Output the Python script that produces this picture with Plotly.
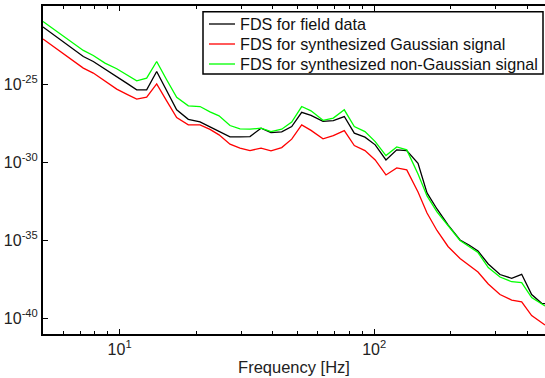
import plotly.graph_objects as go
import math

freq = [5.0, 5.47, 5.99, 6.56, 7.20, 7.88, 8.76, 9.74, 10.69, 11.67,
        12.77, 13.98, 15.30, 16.75, 18.61, 20.69, 22.64, 24.57, 27.13, 29.70,
        32.51, 35.93, 39.31, 43.31, 47.41, 51.89, 56.46, 62.92, 69.07, 76.29,
        83.51, 91.97, 100.9, 111.2, 122.6, 134.2, 148.6, 161.2, 176.4, 194.9,
        217.3, 235.6, 255.6, 280.5, 311.9, 346.7, 379.5, 415.3, 454.7, 468.6]

fds_field = [4.51e-22, 1.58e-22, 5.38e-23, 1.83e-23, 5.87e-24, 2.81e-24, 9.57e-25, 3.07e-25, 1.12e-25, 4.31e-26,
             4.31e-26, 6.43e-25, 3.72e-26, 2.25e-27, 5.55e-28, 3.83e-28, 1.83e-28, 9.70e-29, 4.19e-29, 4.19e-29,
             4.38e-29, 1.51e-28, 7.89e-29, 8.75e-29, 1.91e-28, 1.56e-27, 1.0e-27, 4.12e-28, 4.64e-28, 8.38e-28,
             7.23e-29, 4.01e-29, 1.29e-29, 1.40e-30, 6.14e-30, 5.55e-30, 8.38e-31, 1.08e-32, 1.01e-33, 9.57e-35,
             1.04e-35, 5.00e-36, 2.06e-36, 3.03e-37, 6.43e-38, 3.66e-38, 6.62e-38, 3.36e-39, 9.16e-40, 8.89e-40]

fds_gauss = [7.67e-23, 2.69e-23, 9.29e-24, 3.21e-24, 1.06e-24, 5.07e-25, 1.63e-25, 4.78e-26, 2.22e-26, 1.09e-26,
             1.47e-26, 1.04e-25, 8.49e-27, 7.23e-28, 2.46e-28, 2.46e-28, 1.27e-28, 5.62e-29, 1.43e-29, 7.89e-30,
             5.55e-30, 7.89e-30, 5.30e-30, 8.63e-30, 2.98e-29, 2.46e-28, 1.09e-28, 3.12e-29, 5.07e-29, 1.06e-28,
             1.16e-29, 5.55e-30, 1.40e-30, 1.53e-31, 4.31e-31, 3.21e-31, 1.25e-32, 5.62e-34, 4.25e-35, 4.01e-36,
             6.81e-37, 2.61e-37, 9.29e-38, 1.58e-38, 3.36e-39, 1.49e-39, 1.16e-39, 1.51e-40, 4.78e-41, 3.72e-41]

fds_nongauss = [1.03e-21, 3.66e-22, 1.27e-22, 4.32e-23, 1.43e-23, 6.81e-24, 2.22e-24, 9.57e-25, 3.94e-25, 1.63e-25,
                2.43e-25, 2.81e-24, 1.89e-25, 1.43e-26, 4.06e-27, 3.66e-27, 1.67e-27, 9.29e-28, 2.22e-28, 1.36e-28,
                1.30e-28, 1.51e-28, 9.16e-29, 1.30e-28, 3.66e-28, 3.66e-27, 1.94e-27, 4.78e-28, 6.62e-28, 2.25e-27,
                1.91e-28, 9.16e-29, 2.09e-29, 2.65e-30, 9.57e-30, 6.14e-30, 1.78e-31, 6.92e-33, 6.52e-34, 8.89e-35,
                9.70e-36, 4.01e-36, 1.65e-36, 1.80e-37, 4.44e-38, 2.22e-38, 1.97e-38, 2.15e-39, 7.67e-40, 6.14e-40]

names = ["FDS for field data", "FDS for synthesized Gaussian signal",
         "FDS for synthesized non-Gaussian signal"]
colors = ["#000000", "#ff0000", "#00ff00"]

x_major = [10, 100]
x_major_text = ["10<sup>1</sup>", "10<sup>2</sup>"]
x_minor = [6, 7, 8, 9, 20, 30, 40, 50, 60, 70, 80, 90, 200, 300, 400]
y_ticks = [1e-40, 1e-35, 1e-30, 1e-25]
y_text = ["10<sup>-40</sup>", "10<sup>-35</sup>", "10<sup>-30</sup>", "10<sup>-25</sup>"]

fig = go.Figure()
for name, ys, col in zip(names, [fds_field, fds_gauss, fds_nongauss], colors):
    fig.add_trace(go.Scatter(x=freq, y=ys, mode="lines", name=name,
                             line=dict(color=col, width=1.3)))

fam = "Liberation Sans, Arial, sans-serif"
font = dict(family=fam, size=16.5, color="#222222")

# legend box drawn in paper coordinates (plot area: 43..545 px wide, 6..334 px tall)
W, H = 502.0, 328.0
def px(x):
    return (x - 43) / W
def py(y):
    return (334 - y) / H

shapes = [dict(type="rect", xref="paper", yref="paper",
               x0=px(203), x1=px(543), y0=py(74), y1=py(11.7),
               line=dict(color="black", width=1.5), fillcolor="white", layer="above")]
annotations = []
for i, (name, col) in enumerate(zip(names, colors)):
    yy = 24 + 20 * i
    shapes.append(dict(type="line", xref="paper", yref="paper",
                       x0=px(209), x1=px(235), y0=py(yy), y1=py(yy),
                       line=dict(color=col, width=1.3), layer="above"))
    annotations.append(dict(xref="paper", yref="paper", x=px(237.5), y=py(yy),
                            xanchor="left", yanchor="middle", text=name, showarrow=False,
                            font=dict(family=fam, size=16.2, color="#111111")))

fig.update_layout(
    width=545, height=378,
    margin=dict(l=43, r=0, t=6, b=44),
    paper_bgcolor="white", plot_bgcolor="white",
    font=font,
    showlegend=False,
    shapes=shapes,
    annotations=annotations,
    xaxis=dict(type="log", range=[math.log10(5), math.log10(468.6)],
               tickvals=x_major, ticktext=x_major_text, ticks="inside", ticklen=5,
               tickwidth=1, tickcolor="black", tickfont=dict(family=fam, size=16, color="#222222"),
               minor=dict(tickvals=x_minor, ticks="inside", ticklen=3, tickcolor="black", showgrid=False),
               showline=True, linecolor="black", linewidth=2, mirror="ticks",
               showgrid=False, zeroline=False,
               title=dict(text="Frequency [Hz]", standoff=4, font=font)),
    yaxis=dict(type="log", range=[-41, -20],
               tickvals=y_ticks, ticktext=y_text, ticks="inside", ticklen=5,
               tickwidth=1, tickcolor="black", tickfont=dict(family=fam, size=16, color="#222222"),
               showline=True, linecolor="black", linewidth=2, mirror=False,
               showgrid=False, zeroline=False),
)

fig.write_html("out.html")
